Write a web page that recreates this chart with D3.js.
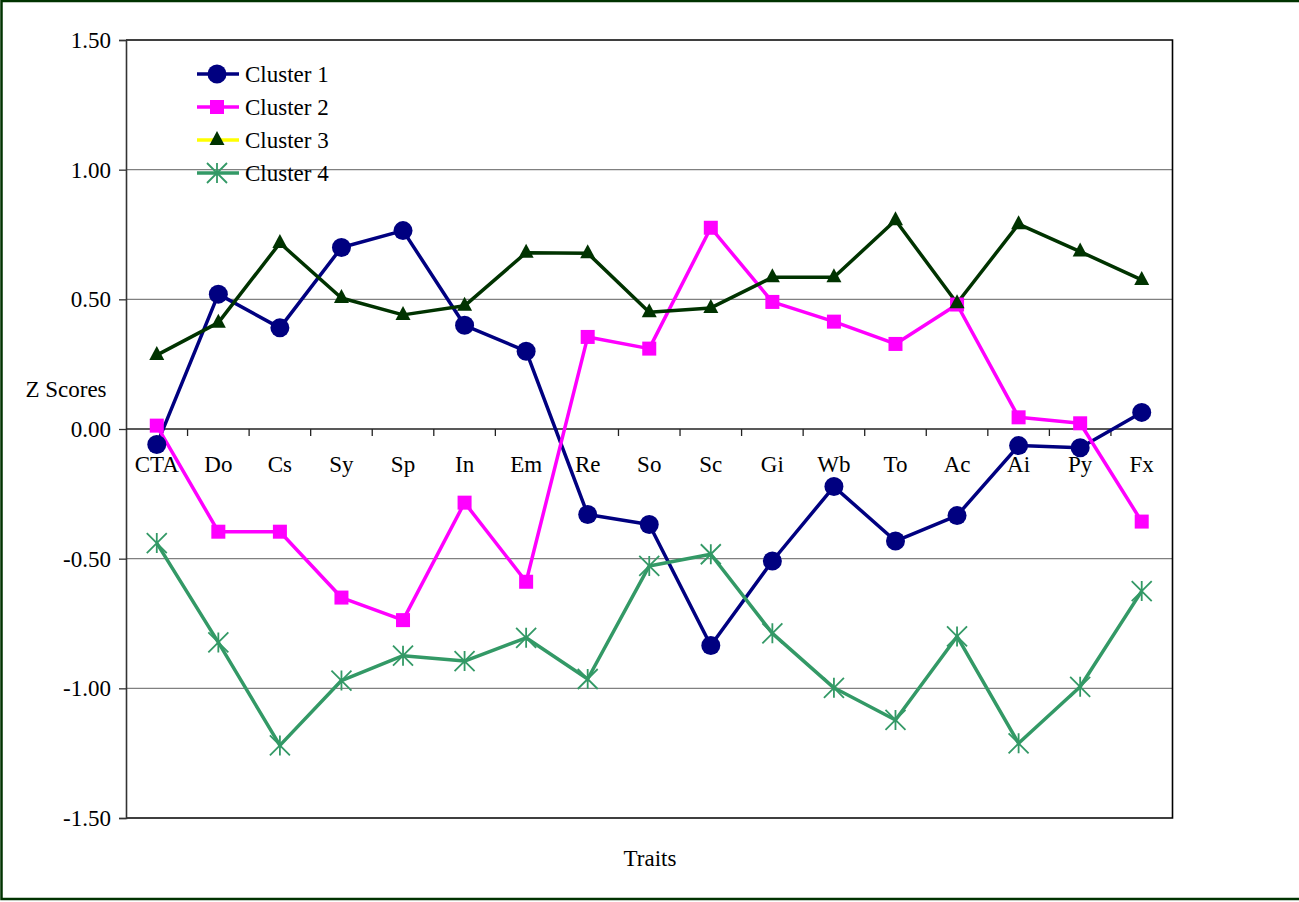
<!DOCTYPE html>
<html>
<head>
<meta charset="utf-8">
<script src="https://cdn.jsdelivr.net/npm/d3@7"></script>
<style>
  html, body { margin: 0; padding: 0; background: #fff; }
  svg { display: block; }
  text { font-family: "Liberation Serif", "Times New Roman", serif; fill: #000; }
</style>
</head>
<body>
<svg id="chart" width="1299" height="902"></svg>
<script>
// Trait abbreviations along the x axis
const traits = ["CTA", "Do", "Cs", "Sy", "Sp", "In", "Em", "Re", "So", "Sc", "Gi", "Wb", "To", "Ac", "Ai", "Py", "Fx"];

// Mean z scores per cluster
const cluster1 = [-0.06, 0.52, 0.39, 0.70, 0.765, 0.40, 0.30, -0.33, -0.368, -0.835, -0.509, -0.222, -0.432, -0.334, -0.064, -0.072, 0.064];
const cluster2 = [0.013, -0.396, -0.396, -0.65, -0.737, -0.284, -0.589, 0.355, 0.31, 0.776, 0.49, 0.414, 0.328, 0.48, 0.045, 0.022, -0.357];
const cluster3 = [0.285, 0.41, 0.717, 0.505, 0.44, 0.475, 0.68, 0.678, 0.45, 0.467, 0.585, 0.585, 0.805, 0.485, 0.79, 0.684, 0.575];
const cluster4 = [-0.44, -0.823, -1.22, -0.97, -0.874, -0.895, -0.805, -0.964, -0.528, -0.483, -0.788, -0.998, -1.122, -0.80, -1.212, -0.994, -0.625];

const seriesNames = ["Cluster 1", "Cluster 2", "Cluster 3", "Cluster 4"];
const yTicks = [1.5, 1.0, 0.5, 0.0, -0.5, -1.0, -1.5];

const series = [
  { name: seriesNames[0], values: cluster1, line: "#000080", legendLine: "#000080", fill: "#000080", marker: "circle" },
  { name: seriesNames[1], values: cluster2, line: "#FF00FF", legendLine: "#FF00FF", fill: "#FF00FF", marker: "square" },
  { name: seriesNames[2], values: cluster3, line: "#003300", legendLine: "#FFFF00", fill: "#003300", marker: "triangle" },
  { name: seriesNames[3], values: cluster4, line: "#339966", legendLine: "#339966", fill: "#339966", marker: "star" }
];

const FONT = 23;
const svg = d3.select("#chart");

// Outer frame (runs off the right edge)
svg.append("rect")
  .attr("x", 1.5).attr("y", 1).attr("width", 1320).attr("height", 898)
  .attr("fill", "#fff").attr("stroke", "#003300").attr("stroke-width", 2.5);

const plot = { left: 126, top: 40, right: 1172.5, bottom: 818 };

const x = d3.scaleBand().domain(traits).range([plot.left, plot.right]);
const y = d3.scaleLinear().domain([-1.5, 1.5]).range([plot.bottom, plot.top]);

// Horizontal gridlines
svg.append("g").selectAll("line")
  .data(yTicks.filter(v => v !== 0 && Math.abs(v) !== 1.5))
  .join("line")
  .attr("x1", plot.left).attr("x2", plot.right)
  .attr("y1", d => y(d)).attr("y2", d => y(d))
  .attr("stroke", "#808080").attr("stroke-width", 1.3);

// Plot area border (top, right, bottom)
svg.append("path")
  .attr("d", `M${plot.left},${y(1.5)}H${plot.right}V${y(-1.5)}H${plot.left}`)
  .attr("fill", "none").attr("stroke", "#000").attr("stroke-width", 1.6);

// Y axis, labels with a plain hyphen for negatives
const fmt = d3.format(".2f");
const yAxis = d3.axisLeft(y).tickValues(yTicks)
  .tickFormat(d => fmt(d).replace("\u2212", "-"))
  .tickSize(7).tickPadding(8);
const gy = svg.append("g").attr("transform", `translate(${plot.left},0)`).call(yAxis);
gy.select(".domain").attr("stroke", "#333").attr("stroke-width", 1.6);
gy.selectAll(".tick line").attr("stroke", "#333").attr("stroke-width", 1.3);
gy.selectAll(".tick text").attr("font-size", FONT).attr("font-family", "Liberation Serif").attr("fill", "#000");

// X axis along the zero line
const xAxis = d3.axisBottom(x).tickSize(0).tickPadding(0);
const gx = svg.append("g").attr("transform", `translate(0,${y(0)})`).call(xAxis);
gx.select(".domain").remove();
gx.append("line")
  .attr("x1", plot.left).attr("x2", plot.right)
  .attr("stroke", "#222").attr("stroke-width", 1.4);
gx.selectAll(".tick text")
  .attr("font-size", FONT).attr("font-family", "Liberation Serif").attr("fill", "#000")
  .attr("dy", null).attr("y", 43);
// Tick marks between categories
gx.append("g").selectAll("line")
  .data(traits.slice(1))
  .join("line")
  .attr("x1", d => x(d)).attr("x2", d => x(d))
  .attr("y1", 0).attr("y2", 7)
  .attr("stroke", "#222").attr("stroke-width", 1.3);

// Axis titles
svg.append("text").attr("x", 66).attr("y", 397).attr("text-anchor", "middle")
  .attr("font-size", FONT).text("Z Scores");
svg.append("text").attr("x", 650).attr("y", 866).attr("text-anchor", "middle")
  .attr("font-size", FONT).text("Traits");

// Marker drawing helper
function drawMarker(g, type, color) {
  if (type === "circle") {
    g.append("circle").attr("r", 9.5).attr("fill", color);
  } else if (type === "square") {
    g.append("rect").attr("x", -7).attr("y", -7).attr("width", 14).attr("height", 14).attr("fill", color);
  } else if (type === "triangle") {
    g.append("path").attr("d", "M0,-9L7.5,5L-7.5,5Z").attr("fill", color);
  } else if (type === "star") {
    const s = 10;
    g.append("path")
      .attr("d", `M${-s},${-s}L${s},${s}M${-s},${s}L${s},${-s}M0,${-s}L0,${s}`)
      .attr("stroke", color).attr("stroke-width", 1.8).attr("fill", "none");
  }
}

const line = d3.line().x((d, i) => x(traits[i]) + x.bandwidth() / 2).y(d => y(d));

// Series lines and markers
series.forEach(s => {
  svg.append("path")
    .datum(s.values)
    .attr("d", line)
    .attr("fill", "none")
    .attr("stroke", s.line)
    .attr("stroke-width", 3.5)
    .attr("stroke-linejoin", "round");
});
series.forEach(s => {
  const g = svg.append("g");
  s.values.forEach((v, i) => {
    const mg = g.append("g").attr("transform", `translate(${x(traits[i]) + x.bandwidth() / 2},${y(v)})`);
    drawMarker(mg, s.marker, s.fill);
  });
});

// Legend
const legend = svg.append("g").attr("transform", "translate(197,74)");
series.forEach((s, i) => {
  const row = legend.append("g").attr("transform", `translate(0,${i * 33})`);
  row.append("line").attr("x1", 0).attr("x2", 42).attr("y1", 0).attr("y2", 0)
    .attr("stroke", s.legendLine).attr("stroke-width", 3.5);
  const mg = row.append("g").attr("transform", "translate(20,0)");
  drawMarker(mg, s.marker, s.fill);
  row.append("text").attr("x", 48).attr("y", 8).attr("font-size", FONT).text(s.name);
});
</script>
</body>
</html>
